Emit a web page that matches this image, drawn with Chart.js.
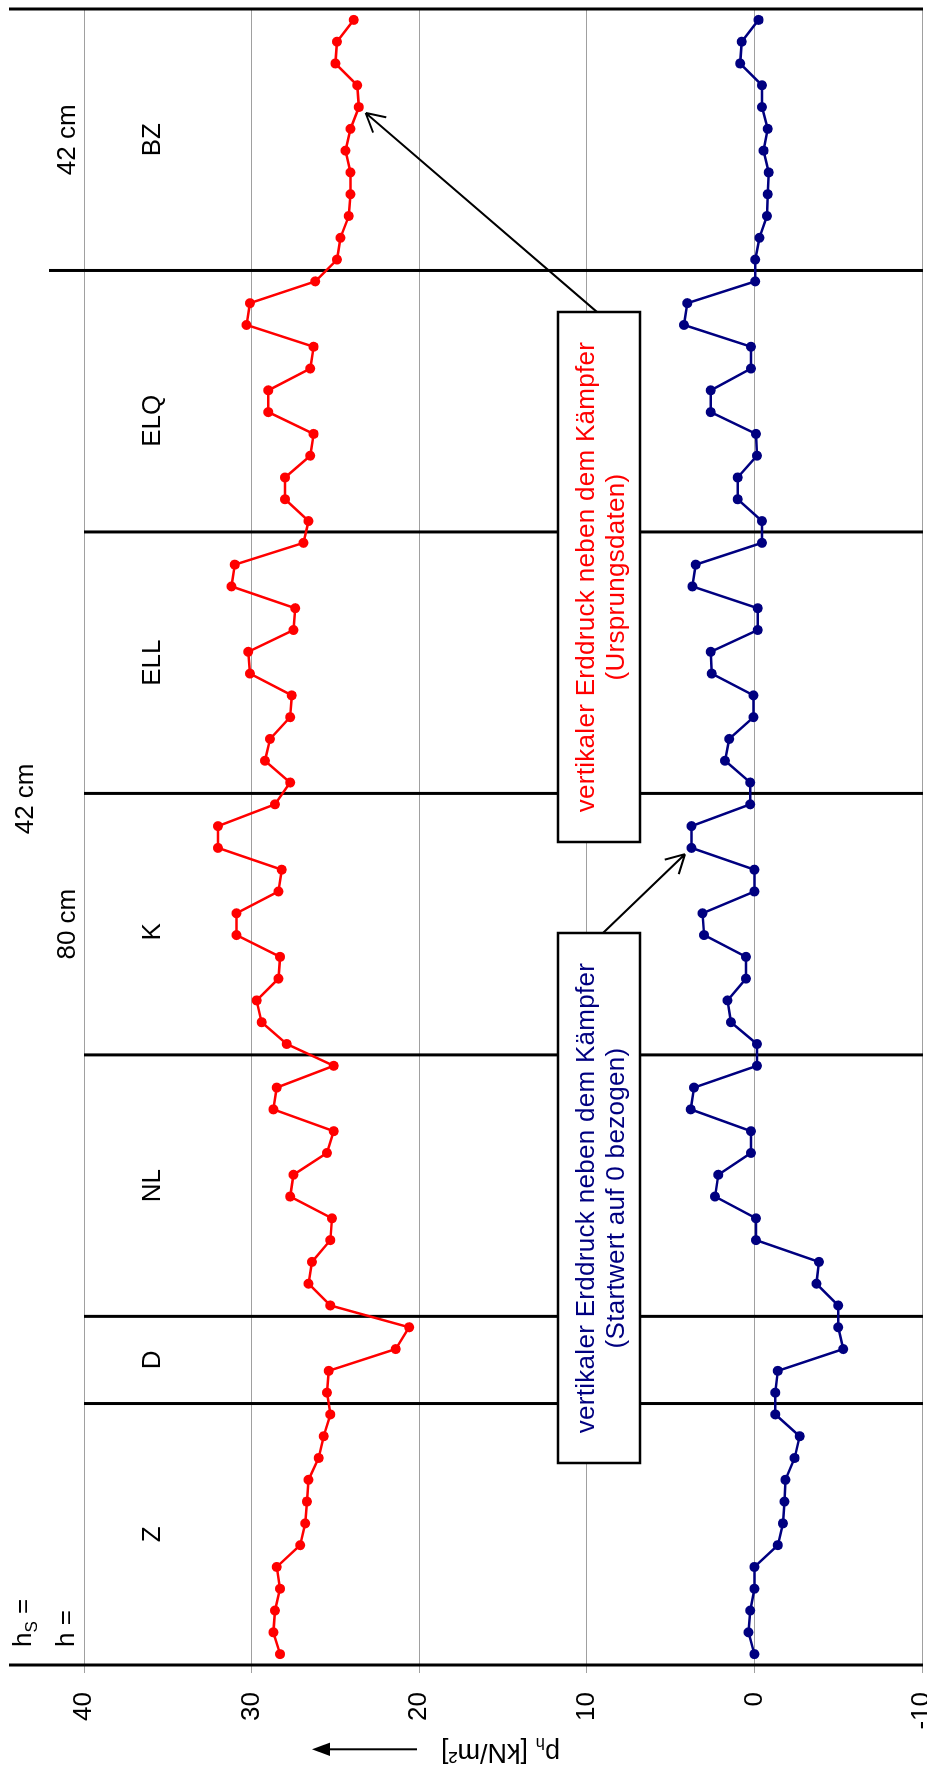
<!DOCTYPE html>
<html>
<head>
<meta charset="utf-8">
<title>Erddruck neben dem Kämpfer</title>
<script src="https://cdn.jsdelivr.net/npm/chart.js@4/dist/chart.umd.min.js"></script>
<style>
    html, body { margin: 0; padding: 0; background: #fff; overflow: hidden; }
    body { width: 927px; height: 1769px; position: relative; }
    /* the chart is drawn lying down and turned by 90 degrees */
    #wrap {
        position: absolute; left: 0; top: 1769px;
        width: 1769px; height: 927px;
        transform-origin: 0 0; transform: rotate(-90deg);
    }
</style>
</head>
<body>
<div id="wrap"><canvas id="chart" width="1769" height="927"></canvas></div>
<script>
// Load phases along the measurement, and how many readings each one has
const phaseNames = ["Z", "D", "NL", "K", "ELL", "ELQ", "BZ"];
const phaseSizes = [12, 4, 12, 12, 12, 12, 12];

// Vertical earth pressure next to the springer, raw data [kN/m²]
const rawPressure = [
    28.3, 28.7, 28.6, 28.3, 28.5, 27.1, 26.8, 26.7, 26.6, 26.0, 25.7, 25.3,
    25.5, 25.4, 21.4, 20.6,
    25.3, 26.6, 26.4, 25.3, 25.2, 27.7, 27.5, 25.5, 25.1, 28.7, 28.5, 25.1,
    27.9, 29.4, 29.7, 28.4, 28.3, 30.9, 30.9, 28.4, 28.2, 32.0, 32.0, 28.6,
    27.7, 29.2, 28.9, 27.7, 27.6, 30.1, 30.2, 27.5, 27.4, 31.2, 31.0, 26.9,
    26.6, 28.0, 28.0, 26.5, 26.3, 29.0, 29.0, 26.5, 26.3, 30.3, 30.1, 26.2,
    24.9, 24.7, 24.2, 24.1, 24.1, 24.4, 24.1, 23.6, 23.7, 25.0, 24.9, 23.9
];

// Same readings with the start value set to 0 [kN/m²]
const zeroPressure = [
    0.0, 0.35, 0.25, 0.0, 0.0, -1.4, -1.7, -1.8, -1.85, -2.4, -2.7, -1.25,
    -1.25, -1.4, -5.3, -5.0,
    -5.0, -3.7, -3.85, -0.1, -0.1, 2.35, 2.15, 0.2, 0.2, 3.8, 3.6, -0.15,
    -0.15, 1.4, 1.6, 0.5, 0.5, 3.0, 3.1, 0.0, 0.0, 3.75, 3.75, 0.25,
    0.25, 1.75, 1.5, 0.05, 0.05, 2.55, 2.6, -0.2, -0.2, 3.7, 3.5, -0.45,
    -0.45, 1.0, 1.0, -0.15, -0.1, 2.6, 2.6, 0.2, 0.2, 4.2, 4.0, -0.05,
    -0.05, -0.3, -0.75, -0.8, -0.85, -0.55, -0.8, -0.45, -0.45, 0.85, 0.75, -0.25
];

// Value axis
const axisMin = -10;
const axisMax = 40;
const axisStep = 10;

// Cover heights written above the phases
const hsNotes = { ELL: "42 cm" };            // at the start of the phase
const hNotes = { K: "80 cm", BZ: "42 cm" };  // centred on the phase

const redText = ["vertikaler Erddruck neben dem Kämpfer", "(Ursprungsdaten)"];
const blueText = ["vertikaler Erddruck neben dem Kämpfer", "(Startwert auf 0 bezogen)"];

const FONT = "'Liberation Sans', Arial, sans-serif";
const RED = "#ff0000";
const NAVY = "#000080";

// one label per reading, e.g. "NL3"
const readingLabels = [];
phaseNames.forEach((name, i) => {
    for (let k = 1; k <= phaseSizes[i]; k++) readingLabels.push(name + k);
});

// first index of each phase
const phaseStart = [];
let count = 0;
phaseSizes.forEach(n => { phaseStart.push(count); count += n; });

function drawArrow(ctx, x1, y1, x2, y2) {
    const ang = Math.atan2(y2 - y1, x2 - x1);
    ctx.beginPath();
    ctx.moveTo(x1, y1);
    ctx.lineTo(x2, y2);
    for (const s of [-1, 1]) {
        ctx.moveTo(x2, y2);
        ctx.lineTo(x2 - 21 * Math.cos(ang + s * 0.5), y2 - 21 * Math.sin(ang + s * 0.5));
    }
    ctx.stroke();
}

function drawBox(ctx, left, right, top, bottom, lines, color) {
    ctx.fillStyle = "#fff";
    ctx.fillRect(left, top, right - left, bottom - top);
    ctx.strokeStyle = "#000";
    ctx.lineWidth = 2.5;
    ctx.strokeRect(left, top, right - left, bottom - top);
    ctx.fillStyle = color;
    ctx.font = "26px " + FONT;
    ctx.letterSpacing = "0.3px";
    ctx.textAlign = "center";
    ctx.textBaseline = "middle";
    const cx = (left + right) / 2;
    ctx.fillText(lines[0], cx, top + 29);
    ctx.fillText(lines[1], cx, top + 59);
    ctx.letterSpacing = "0px";
}

// Thick phase borders, behind the lines
const phaseBorders = {
    id: "phaseBorders",
    beforeDatasetsDraw(chart) {
        const { ctx, chartArea: a, scales: { x } } = chart;
        const cuts = phaseStart.map(s => s - 0.5).concat([count - 0.5]);
        ctx.save();
        ctx.strokeStyle = "#000";
        ctx.lineWidth = 3;
        cuts.forEach((c, i) => {
            const px = x.getPixelForValue(c);
            let top = a.top;
            if (i === 0 || i === cuts.length - 1) top = 9;
            else if (i === cuts.length - 2) top = 49;
            ctx.beginPath();
            ctx.moveTo(px, top);
            ctx.lineTo(px, a.bottom + 1);
            ctx.stroke();
        });
        ctx.restore();
    }
};

// Labels, boxes, arrows and the axis title
const annotations = {
    id: "annotations",
    afterDatasetsDraw(chart) {
        const { ctx, scales: { x } } = chart;
        ctx.save();

        // phase names
        ctx.fillStyle = "#000";
        ctx.font = "26px " + FONT;
        ctx.textAlign = "center";
        ctx.textBaseline = "middle";
        const shift = { K: -0.35, ELQ: -0.9 };
        phaseNames.forEach((name, i) => {
            const mid = phaseStart[i] + (phaseSizes[i] - 1) / 2 + (shift[name] || 0);
            ctx.fillText(name, x.getPixelForValue(mid), 153);
        });

        // h_S = / h = rows
        ctx.textAlign = "left";
        ctx.textBaseline = "alphabetic";
        let px = 122;
        ctx.fillText("h", px, 31);
        px += ctx.measureText("h").width;
        ctx.font = "17px " + FONT;
        ctx.fillText("S", px, 37);
        px += ctx.measureText("S").width;
        ctx.font = "26px " + FONT;
        ctx.fillText(" =", px, 31);
        ctx.fillText("h =", 122, 74);

        ctx.textAlign = "center";
        Object.entries(hsNotes).forEach(([phase, txt]) => {
            const i = phaseNames.indexOf(phase);
            ctx.fillText(txt, x.getPixelForValue(phaseStart[i] - 0.75), 33);
        });
        Object.entries(hNotes).forEach(([phase, txt]) => {
            const i = phaseNames.indexOf(phase);
            const mid = phaseStart[i] + (phaseSizes[i] - 1) / 2;
            ctx.fillText(txt, x.getPixelForValue(mid), 75);
        });

        // text boxes
        drawBox(ctx, 927, 1457, 558, 640, redText, RED);
        drawBox(ctx, 306, 836, 558, 640, blueText, NAVY);

        // arrows from the boxes to a reading
        ctx.strokeStyle = "#000";
        ctx.lineWidth = 2;
        const targets = [
            { start: [1457, 597], point: chart.getDatasetMeta(0).data[71] },
            { start: [836, 603], point: chart.getDatasetMeta(1).data[37] }
        ];
        targets.forEach(t => {
            const dx = t.point.x - t.start[0];
            const dy = t.point.y - t.start[1];
            const len = Math.hypot(dx, dy);
            const tx = t.point.x - dx / len * 9;
            const ty = t.point.y - dy / len * 9;
            drawArrow(ctx, t.start[0], t.start[1], tx, ty);
        });

        // axis title p_h [kN/m²] with arrow
        ctx.save();
        ctx.translate(25, 560);
        ctx.rotate(-Math.PI / 2);
        ctx.fillStyle = "#000";
        ctx.textAlign = "left";
        ctx.textBaseline = "alphabetic";
        ctx.font = "27px " + FONT;
        let tx = 0;
        ctx.fillText("p", tx, 0);
        tx += ctx.measureText("p").width;
        ctx.font = "17px " + FONT;
        ctx.fillText("h", tx, 6);
        tx += ctx.measureText("h").width;
        ctx.font = "27px " + FONT;
        ctx.fillText(" [kN/m²]", tx, 0);
        ctx.restore();

        ctx.beginPath();
        ctx.moveTo(19.7, 417);
        ctx.lineTo(19.7, 328);
        ctx.stroke();
        ctx.fillStyle = "#000";
        ctx.beginPath();
        ctx.moveTo(19.7, 312);
        ctx.lineTo(13, 330);
        ctx.lineTo(26.4, 330);
        ctx.closePath();
        ctx.fill();

        ctx.restore();
    }
};

Chart.defaults.font.family = FONT;
Chart.defaults.color = "#000";

new Chart(document.getElementById("chart"), {
    type: "line",
    data: {
        labels: readingLabels,
        datasets: [{
            label: "vertikaler Erddruck (Ursprungsdaten)",
            data: rawPressure,
            borderColor: RED,
            backgroundColor: RED,
            borderWidth: 2.5,
            pointRadius: 5,
            pointBorderWidth: 0,
            tension: 0
        }, {
            label: "vertikaler Erddruck (Startwert auf 0 bezogen)",
            data: zeroPressure,
            borderColor: NAVY,
            backgroundColor: NAVY,
            borderWidth: 2.5,
            pointRadius: 5,
            pointBorderWidth: 0,
            tension: 0
        }]
    },
    options: {
        responsive: false,
        devicePixelRatio: 1,
        animation: false,
        layout: { padding: { left: 0, right: 9, top: 84, bottom: 4 } },
        plugins: {
            legend: { display: false },
            tooltip: { enabled: false }
        },
        scales: {
            x: {
                type: "category",
                display: false,
                offset: true
            },
            y: {
                min: axisMin,
                max: axisMax,
                ticks: {
                    stepSize: axisStep,
                    padding: 19,
                    color: "#000",
                    font: { size: 26 }
                },
                grid: { color: "#a0a0a0", lineWidth: 1, tickLength: 8 },
                border: { display: false },
                afterFit(scale) {
                    // fixed axis width, and no room kept for the end labels
                    scale.width = 104;
                    scale.paddingTop = 0;
                    scale.paddingBottom = 0;
                }
            }
        }
    },
    plugins: [phaseBorders, annotations]
});
</script>
</body>
</html>
